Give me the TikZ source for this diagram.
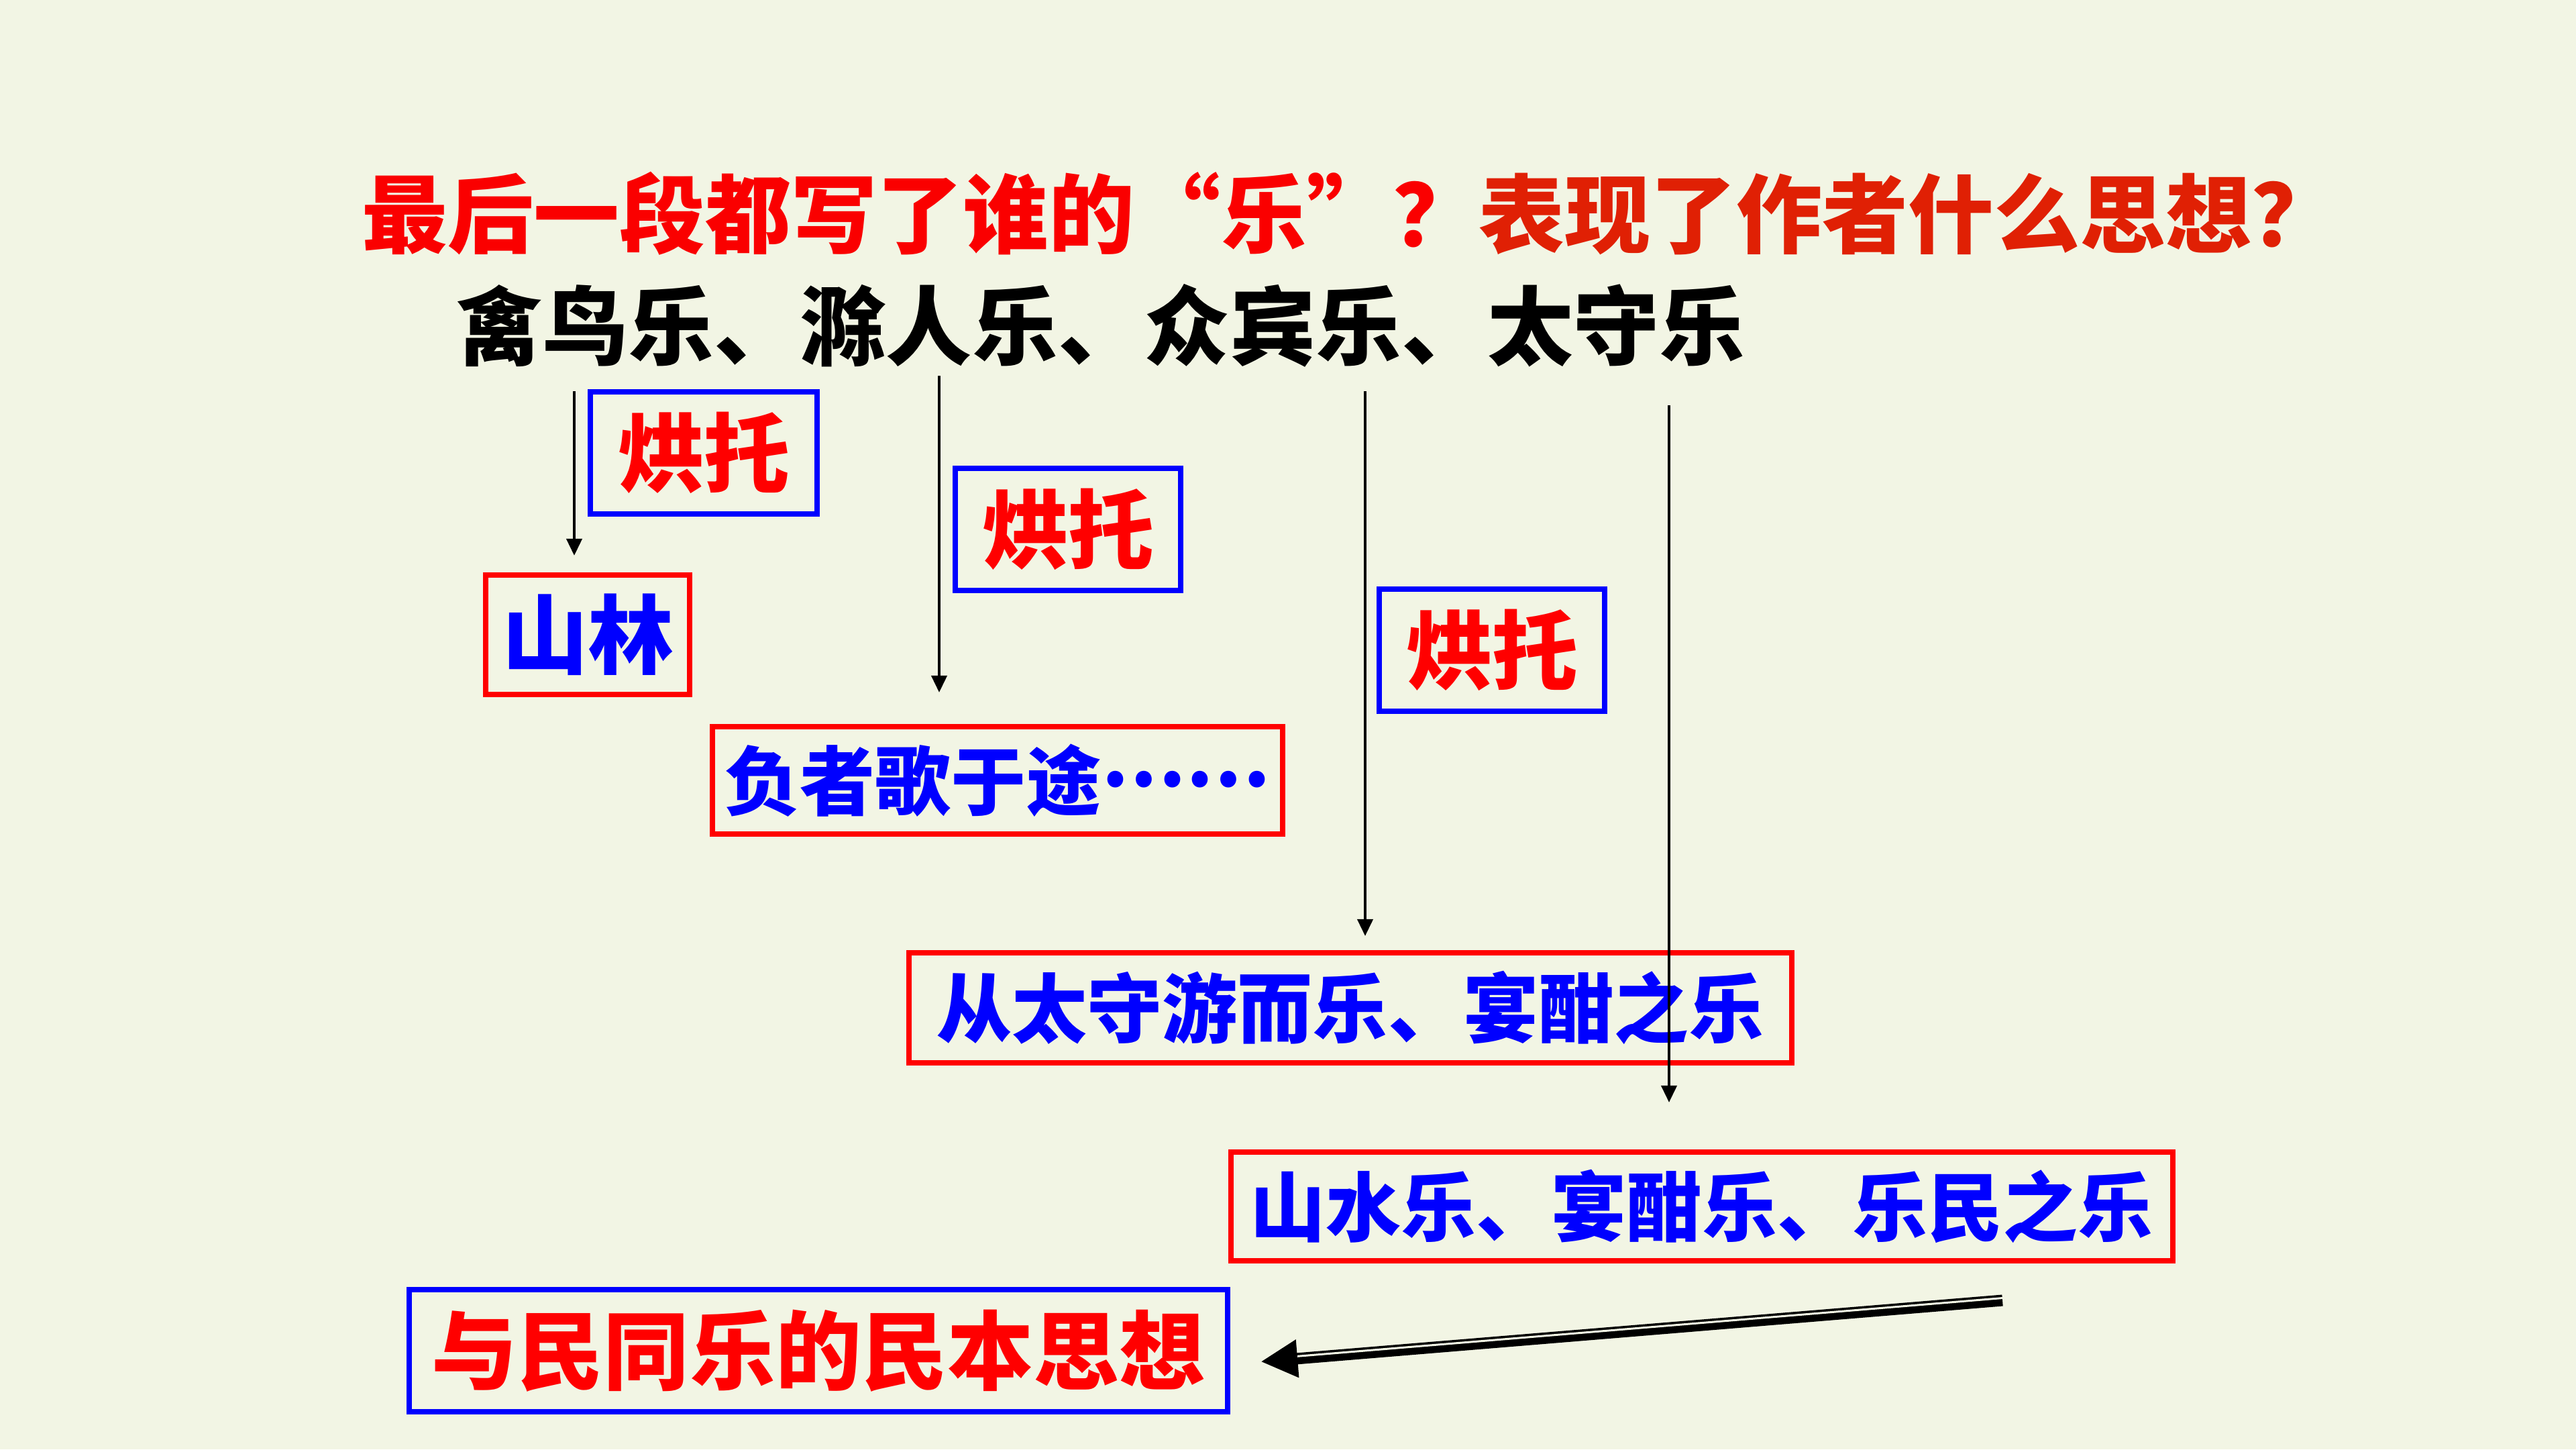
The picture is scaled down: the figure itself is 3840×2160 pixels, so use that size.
\documentclass[tikz,border=0pt]{standalone}
\usepackage{fontspec}
\newfontfamily\cjk[RawFeature={+fwid}]{Noto Sans CJK SC}
\usetikzlibrary{arrows.meta}
\definecolor{paper}{RGB}{242,245,228}
\definecolor{titlered}{RGB}{250,0,0}
\definecolor{titleredb}{RGB}{224,32,4}
\tikzset{
  redbox/.style={draw=red, line width=0.08cm, text=blue, inner sep=0pt},
  bluebox/.style={draw=blue, line width=0.08cm, text=red, inner sep=0pt},
  bigtext/.style={font=\cjk\bfseries\fontsize{36.4}{40}\selectfont},
  midtext/.style={font=\cjk\bfseries\fontsize{31.9}{36}\selectfont},
  thinarrow/.style={-{Triangle[width=0.23cm,length=0.25cm]}, line width=0.04cm},
  bigarrow/.style={-{Triangle[width=0.53cm,length=0.55cm]}, line width=0.17cm, shorten >=0.45cm},
}

\begin{document}
\begin{tikzpicture}[x=0.01cm, y=-0.01cm]
    \fill[paper] (0,0) rectangle (3840,2160);
    \useasboundingbox (0,0) rectangle (3840,2160);

    \node[bigtext, text=titlered] (question) at (2012,318) {最后一段都写了谁的“乐”？\textcolor{titleredb}{表现了作者什么思想？}};
    \node[bigtext] (joys) at (1641,485) {禽鸟乐、滁人乐、众宾乐、太守乐};

    \node[bluebox, bigtext, minimum width=3.38cm, minimum height=1.82cm] (foilA) at (1049,675) {烘托};
    \node[redbox, bigtext, minimum width=3.04cm, minimum height=1.77cm] (shanlin) at (876,946) {山林};
    \node[bluebox, bigtext, minimum width=3.35cm, minimum height=1.82cm] (foilB) at (1592,789) {烘托};
    \node[redbox, midtext, minimum width=8.50cm, minimum height=1.60cm] (singers) at (1487,1163) {负者歌于途\raisebox{0.3em}{……}};
    \node[bluebox, bigtext, minimum width=3.35cm, minimum height=1.81cm] (foilC) at (2224,969) {烘托};
    \node[redbox, midtext, minimum width=13.15cm, minimum height=1.63cm] (guests) at (2013,1502) {从太守游而乐、宴酣之乐};
    \node[redbox, midtext, minimum width=14.04cm, minimum height=1.62cm] (governor) at (2537,1798) {山水乐、宴酣乐、乐民之乐};
    \node[bluebox, bigtext, minimum width=12.20cm, minimum height=1.82cm] (idea) at (1220,2013) {与民同乐的民本思想};

    \coordinate (birds) at (856,583);
    \coordinate (people) at (1400,560);
    \coordinate (guestjoy) at (2035,583);
    \coordinate (governorjoy) at (2488,604);
    \draw[thinarrow, shorten >=0.255cm] (birds) -- (birds |- shanlin.north);
    \draw[thinarrow, shorten >=0.47cm] (people) -- (people |- singers.north);
    \draw[thinarrow, shorten >=0.215cm] (guestjoy) -- (guestjoy |- guests.north);
    \draw[thinarrow, shorten >=0.70cm] (governorjoy) -- (governorjoy |- governor.north);

    \coordinate (sweep) at (2985,1938);
    \draw[bigarrow] (sweep) -- ([yshift=-0.2cm]idea.east);
    \draw[paper, line width=0.03cm, shorten >=1.0cm, transform canvas={yshift=0.035cm}] (sweep) -- ([yshift=-0.2cm]idea.east);
\end{tikzpicture}
\end{document}
